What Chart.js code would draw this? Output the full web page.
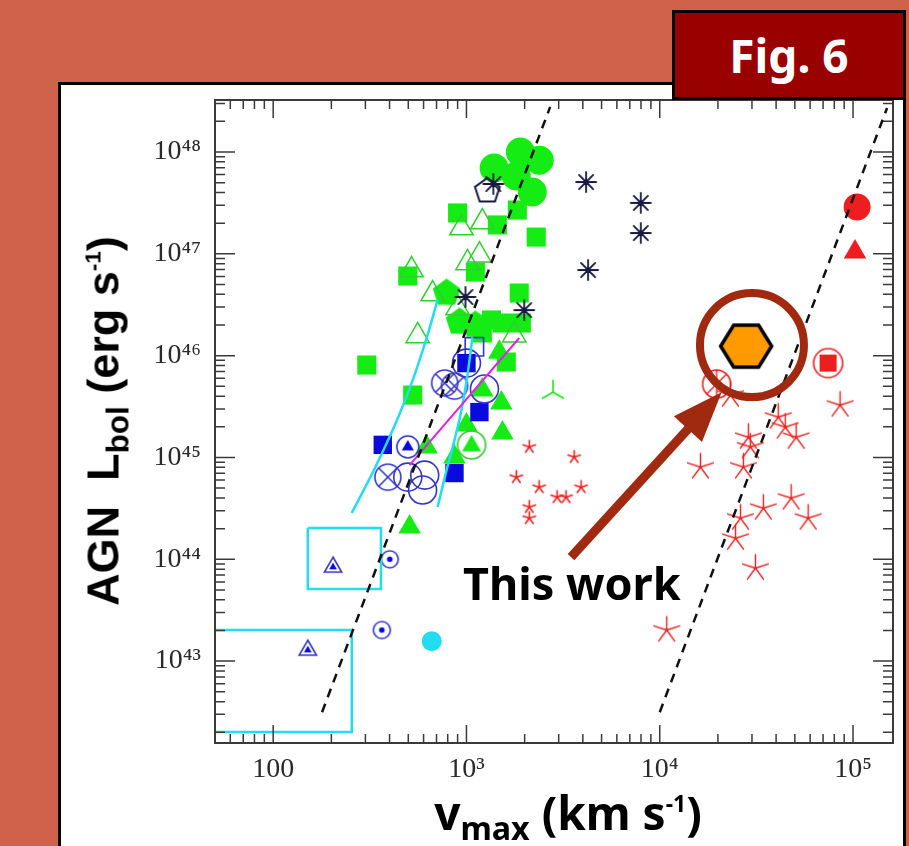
<!DOCTYPE html>
<html lang="en">
<head>
<meta charset="UTF-8">
<title>Fig. 6 - AGN Lbol vs vmax</title>
<style>
  body { margin: 0; width: 909px; height: 846px; overflow: hidden; background: #d0624c; position: relative; font-family: 'Noto Sans', sans-serif; }
  .panel { position: absolute; left: 58px; top: 82px; width: 842px; height: 800px; background: #fff; border: 3px solid #000; }
  .wrap { position: absolute; left: 0; top: 0; width: 909px; height: 846px; z-index: 2; }
  .fig { position: absolute; left: 672px; top: 10px; width: 228px; height: 84px; background: #990000; border: 3px solid #000;
         color: #fff; font: bold 46px 'Noto Sans'; display: flex; align-items: center; justify-content: center; z-index: 3; }
  .ytitle { position: absolute; left: 103px; top: 421px; transform: translate(-50%, -50%) rotate(-90deg); white-space: nowrap;
            font: bold 45px 'Liberation Sans', sans-serif; line-height: 1; z-index: 4; color: #000; }
  .xtitle { position: absolute; left: 568px; top: 812px; transform: translate(-50%, -50%); white-space: nowrap;
            font: bold 46px 'Noto Sans', sans-serif; line-height: 1; z-index: 4; color: #000; }
  .sub { font-size: 0.7em; position: relative; top: 0.32em; }
  .sup { font-size: 0.5em; position: relative; top: -0.8em; }
  .note { position: absolute; left: 463px; top: 560px; font: bold 45px 'Noto Sans', sans-serif; line-height: 1; z-index: 4; color: #000; white-space: nowrap; }
</style>
</head>
<body>
<div class="panel"></div>
<div class="wrap"><canvas id="fig6"></canvas></div>
<div class="fig">Fig. 6</div>
<div class="ytitle">AGN&nbsp; L<span class="sub">bol</span> (erg s<span class="sup">-1</span>)</div>
<div class="xtitle">v<span class="sub">max</span> (km s<span class="sup">-1</span>)</div>
<div class="note">This work</div>

<script src="https://cdn.jsdelivr.net/npm/chart.js"></script>
<script>
// axis ranges and tick labels
const xMin = 50, xMax = 1.61e5;
const yMin = 1.57e42, yMax = 3.24e48;
const xTickValues = [100, 1e3, 1e4, 1e5];
const xTickLabels = ['100', '10\u00b3', '10\u2074', '10\u2075'];
const yTickValues = [1e43, 1e44, 1e45, 1e46, 1e47, 1e48];
const yTickLabels = ['10\u2074\u00b3', '10\u2074\u2074', '10\u2074\u2075', '10\u2074\u2076', '10\u2074\u2077', '10\u2074\u2078'];

// data, [v_max (km/s), L_bol (erg/s)]
const greenDiscs = [[1390, 6.97e47], [1900, 1.0e48], [2380, 8.3e47], [1810, 5.8e47], [2190, 4.05e47]];
const greenSquares = [[900, 2.52e47], [1445, 1.92e47], [1833, 2.69e47], [2296, 1.46e47], [497, 6.05e46], [1112, 6.62e46],
  [1875, 4.12e46], [1346, 2.24e46], [1208, 1.67e46], [1535, 2.09e46], [1923, 2.09e46], [305, 8.09e45], [527, 4.1e45], [1607, 8.65e45]];
const greenPentagons = [[789, 4.12e46], [921, 2.14e46], [1112, 2.0e46]];
const greenOpenTri = [[942, 1.79e47], [1208, 2.05e47], [1167, 9.7e46], [1012, 8.13e46], [520, 6.93e46], [668, 4.03e46],
  [559, 1.56e46], [1767, 1.59e46], [900, 2.94e46]];
const greenTri = [[508, 2.07e44], [1535, 1.74e45], [1515, 3.42e45], [1000, 2.08e45], [1208, 4.59e45], [622, 1.27e45],
  [867, 1.01e45], [1479, 1.08e46]];
const greenCircTri = [[1062, 1.33e45]];
const greenTristar = [[2805, 4.38e45]];
const navyStars = [[1377, 4.85e47], [988, 3.77e46], [1990, 2.8e46], [4160, 5.07e47], [7980, 3.16e47], [7980, 1.6e47], [4260, 6.93e46]];
const navyPentagon = [[1282, 4.14e47]];
const blueSquares = [[1000, 8.45e45], [1167, 2.79e45], [369, 1.33e45], [867, 7.03e44]];
const blueOpenSquare = [[1099, 1.22e46]];
const blueCircles = [[1000, 8.45e45], [1239, 4.7e45], [608, 6.71e44], [593, 4.79e44], [497, 6.41e44]];
const blueCircX = [[392, 6.41e44], [771, 5.38e45], [867, 5.02e45]];
const blueCircTri = [[497, 1.27e45]];
const blueCircDot = [[401, 1.0e44], [365, 2.02e43]];
const blueTriDot = [[204, 8.77e43], [151, 1.34e43]];
const cyanDisc = [[661, 1.57e43]];
const cyanBoxA = [[151, 2.03e44], [361, 2.03e44], [361, 5.1e43], [151, 5.1e43], [151, 2.03e44]];
const cyanBoxB = [[50, 2.02e43], [255, 2.02e43], [255, 2.01e42], [50, 2.01e42]];
const cyanLeft = [[255, 2.85e44], [332, 7.52e44], [426, 2.08e45], [527, 5.75e45], [622, 1.49e46], [709, 3.52e46]];
const cyanRight = [[709, 3.26e44], [789, 7.52e44], [867, 1.48e45], [942, 2.93e45], [1012, 6.44e45], [1074, 1.52e46]];
const magentaLine = [[508, 8.41e44], [1875, 1.49e46]];
const redSmallStars = [[2113, 1.27e45], [3606, 1.01e45], [1811, 6.41e44], [2377, 5.11e44], [3917, 5.11e44], [2944, 4.08e44],
  [3275, 4.08e44], [2113, 3.26e44], [2113, 2.54e44]];
const redStars = [[16250, 8.05e44], [27100, 8.05e44], [28740, 1.58e45], [29430, 1.27e45], [41020, 2.49e45], [44570, 1.99e45],
  [50800, 1.58e45], [85700, 3.27e45], [23230, 4.1e45], [34360, 3.18e44], [47860, 3.99e44], [58600, 2.54e44], [26180, 2.54e44],
  [24660, 1.61e44], [31260, 8.2e43], [10870, 2.02e43]];
const redCircX = [[19680, 5.26e45]];
const redSqCirc = [[74300, 8.45e45]];
const redDisc = [[105000, 2.88e47]];
const redTri = [[102400, 1.04e47]];
const thisWork = [[28000, 1.24e46]];
const relationA = [[179, 3.15e42], [2710, 2.77e48]];
const relationB = [[10000, 3.15e42], [150000, 2.7e48]];
const ringCentre = [30000, 1.27e46];
const arrowTail = [3475, 1.05e44];
const arrowTip = [20900, 4.38e45];

const green = '#14ec14', blue = '#0a0adc', blueLine = '#3535c8', navy = '#181840';
const cyan = '#22dcef', magenta = '#e024e0', red = '#ee1e1e', rust = '#9f2a10';

const pts = a => a.map(([x, y]) => ({ x, y }));

// small canvases used as point styles
function icon(w, h, draw) {
  const c = document.createElement('canvas');
  c.width = w; c.height = h;
  const g = c.getContext('2d');
  g.translate(w / 2, h / 2);
  draw(g);
  return c;
}
function spokes(color, r, n, lw) {
  return icon(2 * r + 6, 2 * r + 6, g => {
    g.strokeStyle = color; g.lineWidth = lw; g.lineCap = 'round';
    g.beginPath();
    for (let i = 0; i < n; i++) {
      const t = i * 2 * Math.PI / n;
      g.moveTo(0, 0); g.lineTo(r * Math.sin(t), -r * Math.cos(t));
    }
    g.stroke();
  });
}
function polyPath(g, n, r) {
  g.beginPath();
  for (let i = 0; i < n; i++) {
    const t = i * 2 * Math.PI / n;
    g.lineTo(r * Math.sin(t), -r * Math.cos(t));
  }
  g.closePath();
}
function polygon(n, r, fill, stroke, lw) {
  return icon(2 * r + 6, 2 * r + 6, g => {
    polyPath(g, n, r);
    if (fill) { g.fillStyle = fill; g.fill(); }
    if (stroke) { g.strokeStyle = stroke; g.lineWidth = lw; g.stroke(); }
  });
}
function ringWith(color, r, inner) {
  return icon(2 * r + 6, 2 * r + 6, g => {
    if (inner) inner(g);
    g.strokeStyle = color; g.lineWidth = 1.6;
    g.beginPath(); g.arc(0, 0, r, 0, 2 * Math.PI); g.stroke();
  });
}
const hexagon = icon(58, 50, g => {
  g.beginPath();
  g.moveTo(-25.5, 0); g.lineTo(-12.5, -21); g.lineTo(12.5, -21);
  g.lineTo(25.5, 0); g.lineTo(12.5, 21); g.lineTo(-12.5, 21);
  g.closePath();
  g.fillStyle = '#ff9a00'; g.fill();
  g.strokeStyle = '#000'; g.lineWidth = 3.5; g.stroke();
});

const styles = {
  navyStar: spokes(navy, 10, 8, 1.8),
  navyPent: polygon(5, 13, null, navy, 2),
  greenPent: polygon(5, 14.5, green, null, 0),
  tristar: spokes(green, 12, 3, 1.6),
  redStar: spokes(red, 13.5, 5, 1.4),
  redSmall: spokes(red, 6.5, 5, 1.6),
  circX: ringWith(blueLine, 13, g => {
    g.strokeStyle = blueLine; g.lineWidth = 1.6; g.beginPath();
    g.moveTo(-9, -9); g.lineTo(9, 9); g.moveTo(9, -9); g.lineTo(-9, 9); g.stroke();
  }),
  circTriBlue: ringWith(blueLine, 11, g => { polyPath(g, 3, 7); g.fillStyle = blue; g.fill(); }),
  circDot: ringWith(blueLine, 8.5, g => { g.fillStyle = blue; g.beginPath(); g.arc(0, 0, 2.8, 0, 2 * Math.PI); g.fill(); }),
  triDot: icon(26, 24, g => {
    g.translate(0, 2);
    polyPath(g, 3, 10); g.strokeStyle = blueLine; g.lineWidth = 1.6; g.stroke();
    polyPath(g, 3, 4.5); g.fillStyle = blue; g.fill();
  }),
  circTriGreen: ringWith('#2fc82f', 14, g => { g.translate(0, 1); polyPath(g, 3, 11); g.fillStyle = green; g.fill(); g.translate(0, -1); }),
  redCircX: ringWith(red, 14, g => {
    g.strokeStyle = red; g.lineWidth = 1.4; g.beginPath();
    g.moveTo(-10, -10); g.lineTo(10, 10); g.moveTo(10, -10); g.lineTo(-10, 10);
    g.moveTo(0, -14); g.lineTo(0, 14); g.stroke();
  }),
  redSqCirc: ringWith(red, 14.5, g => { g.fillStyle = red; g.fillRect(-8.5, -8.5, 17, 17); })
};

function marks(data, extra) {
  return Object.assign({ data: pts(data), showLine: false, pointRadius: 10, borderWidth: 0 }, extra);
}
function img(data, image) {
  return marks(data, { pointStyle: image, pointRadius: 12 });
}
function curve(data, color, width, extra) {
  return Object.assign({ data: pts(data), showLine: true, pointRadius: 0, borderColor: color, borderWidth: width, fill: false }, extra);
}

// datasets: the first one is drawn on top
const datasets = [
  curve(relationA, '#111', 2.5, { borderDash: [9, 7] }),
  curve(relationB, '#111', 2.5, { borderDash: [9, 7] }),
  img(thisWork, hexagon),
  img(navyStars, styles.navyStar),
  img(navyPentagon, styles.navyPent),
  curve(magentaLine, magenta, 2),
  curve(cyanLeft, cyan, 2.5, { cubicInterpolationMode: 'monotone' }),
  curve(cyanRight, cyan, 2.5, { cubicInterpolationMode: 'monotone' }),
  curve(cyanBoxA, cyan, 2.5),
  curve(cyanBoxB, cyan, 2.5),
  marks(cyanDisc, { pointStyle: 'circle', pointRadius: 10, backgroundColor: cyan }),
  img(blueCircX, styles.circX),
  marks(blueCircles, { pointStyle: 'circle', pointRadius: 14, backgroundColor: 'rgba(0,0,0,0)', borderColor: blueLine, borderWidth: 1.6 }),
  marks(blueSquares, { pointStyle: 'rect', pointRadius: 13, backgroundColor: blue }),
  marks(blueOpenSquare, { pointStyle: 'rect', pointRadius: 13, backgroundColor: 'rgba(0,0,0,0)', borderColor: blueLine, borderWidth: 1.6 }),
  img(blueCircTri, styles.circTriBlue),
  img(blueCircDot, styles.circDot),
  img(blueTriDot, styles.triDot),
  img(greenCircTri, styles.circTriGreen),
  img(greenTristar, styles.tristar),
  marks(greenOpenTri, { pointStyle: 'triangle', pointRadius: 13.5, backgroundColor: 'rgba(0,0,0,0)', borderColor: '#2fcf2f', borderWidth: 1.5 }),
  marks(greenTri, { pointStyle: 'triangle', pointRadius: 13, backgroundColor: green }),
  marks(greenSquares, { pointStyle: 'rect', pointRadius: 13.5, backgroundColor: green }),
  img(greenPentagons, styles.greenPent),
  marks(greenDiscs, { pointStyle: 'circle', pointRadius: 14.5, backgroundColor: green }),
  img(redCircX, styles.redCircX),
  img(redSqCirc, styles.redSqCirc),
  marks(redDisc, { pointStyle: 'circle', pointRadius: 13.5, backgroundColor: red }),
  marks(redTri, { pointStyle: 'triangle', pointRadius: 13, backgroundColor: red }),
  img(redStars, styles.redStar),
  img(redSmallStars, styles.redSmall)
];

function labelFor(values, labels, v) {
  for (let i = 0; i < values.length; i++) {
    if (Math.abs(Math.log10(v) - Math.log10(values[i])) < 1e-6) return labels[i];
  }
  return '';
}

// frame and inward ticks on all four sides
const frameTicks = {
  id: 'frameTicks',
  afterDatasetsDraw(chart) {
    const { ctx, chartArea: a, scales: { x, y } } = chart;
    ctx.save();
    ctx.strokeStyle = '#3a3a3a';
    ctx.lineWidth = 1.5;
    ctx.beginPath();
    for (let e = 1; e <= 5; e++) {
      for (let k = 1; k <= 9; k++) {
        const v = k * Math.pow(10, e);
        if (v < xMin || v > xMax) continue;
        const px = x.getPixelForValue(v);
        const len = k === 1 ? 18 : 9;
        ctx.moveTo(px, a.bottom); ctx.lineTo(px, a.bottom - len);
        ctx.moveTo(px, a.top); ctx.lineTo(px, a.top + len);
      }
    }
    for (let e = 42; e <= 48; e++) {
      for (let k = 1; k <= 9; k++) {
        const v = k * Math.pow(10, e);
        if (v < yMin || v > yMax) continue;
        const py = y.getPixelForValue(v);
        const len = k === 1 ? 20 : 10;
        ctx.moveTo(a.left, py); ctx.lineTo(a.left + len, py);
        ctx.moveTo(a.right, py); ctx.lineTo(a.right - len, py);
      }
    }
    ctx.stroke();
    ctx.lineWidth = 2;
    ctx.strokeRect(a.left, a.top, a.right - a.left, a.bottom - a.top);
    ctx.restore();
  }
};

// ring and arrow pointing at this work
const callout = {
  id: 'callout',
  afterDraw(chart) {
    const { ctx, scales: { x, y } } = chart;
    ctx.save();
    ctx.strokeStyle = rust;
    ctx.fillStyle = rust;
    ctx.lineWidth = 8;
    ctx.beginPath();
    ctx.arc(x.getPixelForValue(ringCentre[0]), y.getPixelForValue(ringCentre[1]), 52, 0, 2 * Math.PI);
    ctx.stroke();

    const x0 = x.getPixelForValue(arrowTail[0]), y0 = y.getPixelForValue(arrowTail[1]);
    const x1 = x.getPixelForValue(arrowTip[0]), y1 = y.getPixelForValue(arrowTip[1]);
    const ang = Math.atan2(y1 - y0, x1 - x0);
    const headLen = 50, headHalf = 19;
    const bx = x1 - headLen * Math.cos(ang), by = y1 - headLen * Math.sin(ang);
    ctx.lineWidth = 9;
    ctx.lineCap = 'butt';
    ctx.beginPath();
    ctx.moveTo(x0, y0); ctx.lineTo(bx + 2 * Math.cos(ang), by + 2 * Math.sin(ang));
    ctx.stroke();
    ctx.beginPath();
    ctx.moveTo(x1, y1);
    ctx.lineTo(bx + headHalf * Math.sin(ang), by - headHalf * Math.cos(ang));
    ctx.lineTo(bx - headHalf * Math.sin(ang), by + headHalf * Math.cos(ang));
    ctx.closePath();
    ctx.fill();
    ctx.restore();
  }
};

new Chart(document.getElementById('fig6'), {
  type: 'scatter',
  data: { datasets },
  options: {
    responsive: true,
    maintainAspectRatio: false,
    animation: false,
    events: [],
    layout: { padding: { left: 60, top: 100, right: 16, bottom: 53 } },
    plugins: { legend: { display: false }, tooltip: { enabled: false } },
    scales: {
      x: {
        type: 'logarithmic', min: xMin, max: xMax,
        grid: { display: false, drawTicks: false },
        border: { display: false },
        afterFit: s => { s.height = 50; },
        ticks: {
          autoSkip: false, maxRotation: 0, padding: 10, color: '#2a2a2a',
          font: { family: "'Liberation Serif', serif", size: 28 },
          callback: v => labelFor(xTickValues, xTickLabels, v)
        }
      },
      y: {
        type: 'logarithmic', min: yMin, max: yMax,
        grid: { display: false, drawTicks: false },
        border: { display: false },
        afterFit: s => { s.width = 155; },
        ticks: {
          autoSkip: false, padding: 14, color: '#2a2a2a',
          font: { family: "'Liberation Serif', serif", size: 28 },
          callback: v => labelFor(yTickValues, yTickLabels, v)
        }
      }
    }
  },
  plugins: [frameTicks, callout]
});
</script>
</body>
</html>
